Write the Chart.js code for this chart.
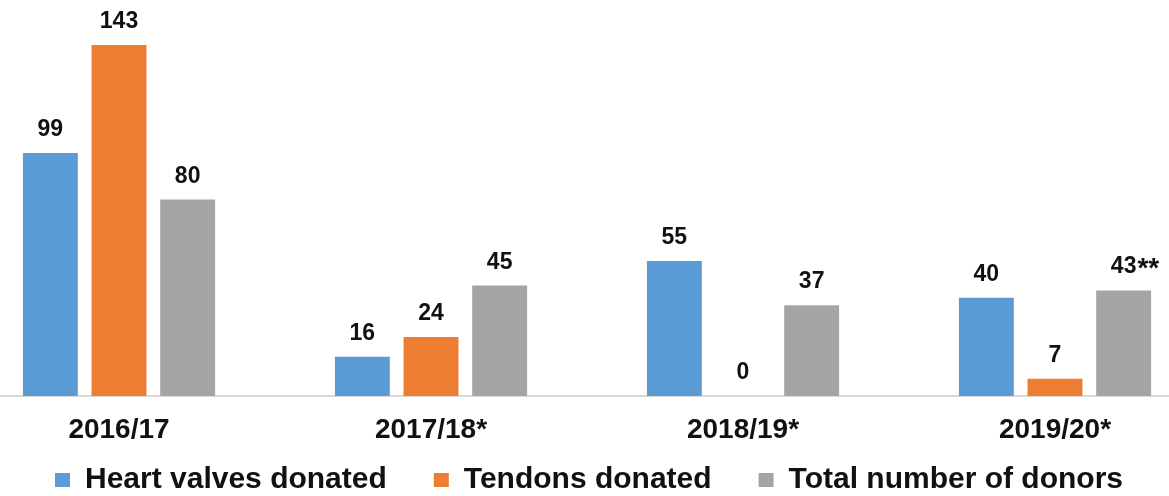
<!DOCTYPE html>
<html>
<head>
<meta charset="utf-8">
<script src="https://cdn.jsdelivr.net/npm/chart.js@4/dist/chart.umd.min.js"></script>
<style>
  html, body { margin: 0; padding: 0; background: #fff; overflow: hidden; width: 1169px; height: 496px; }
  #wrap { position: absolute; left: -37px; top: 0; width: 1248px; height: 496px; }
</style>
</head>
<body>
<div id="wrap"><canvas id="c"></canvas></div>
<script>
const categories = ['2016/17', '2017/18*', '2018/19*', '2019/20*'];
const seriesNames = ['Heart valves donated', 'Tendons donated', 'Total number of donors'];
const heartValves = [99, 16, 55, 40];
const tendons = [143, 24, 0, 7];
const totalDonors = [80, 45, 37, 43];
const totalDonorsNote = ['', '', '', '**'];
const colors = ['#5B9BD5', '#ED7D31', '#A5A5A5'];

const FONT = "'Liberation Sans', Arial, sans-serif";

const labelPlugin = {
  id: 'valueLabels',
  afterDatasetsDraw(chart) {
    const ctx = chart.ctx;
    ctx.save();
    ctx.fillStyle = '#111';
    ctx.textBaseline = 'alphabetic';
    chart.data.datasets.forEach((ds, i) => {
      const meta = chart.getDatasetMeta(i);
      meta.data.forEach((el, j) => {
        const txt = String(ds.data[j]);
        const y = el.y - 17;
        ctx.font = 'bold 23px ' + FONT;
        ctx.textAlign = 'center';
        ctx.fillText(txt, el.x, y);
        const note = ds.notes ? ds.notes[j] : '';
        if (note) {
          const w = ctx.measureText(txt).width;
          ctx.font = 'bold 28px ' + FONT;
          ctx.textAlign = 'left';
          ctx.fillText(note, el.x + w / 2 + 1, y + 4);
        }
      });
    });
    ctx.restore();
  }
};

const legendPlugin = {
  id: 'legendPlace',
  beforeLayout(chart) {
    const lg = chart.legend;
    if (lg && !lg._patched) {
      const f = lg.fit;
      lg.fit = function () { f.call(this); this.height = 40; };
      lg._patched = true;
    }
  },
  afterLayout(chart) {
    const lg = chart.legend;
    const p = lg.options.labels.padding;
    lg.top = 465 - p;
    lg.bottom = chart.height;
    lg.height = lg.bottom - lg.top;
    lg.left += 2;
    lg.right += 2;
  }
};

new Chart(document.getElementById('c'), {
  type: 'bar',
  data: {
    labels: categories,
    datasets: [
      { label: seriesNames[0], data: heartValves, backgroundColor: colors[0] },
      { label: seriesNames[1], data: tendons, backgroundColor: colors[1] },
      { label: seriesNames[2], data: totalDonors, backgroundColor: colors[2], notes: totalDonorsNote }
    ]
  },
  options: {
    responsive: true,
    maintainAspectRatio: false,
    animation: false,
    layout: { padding: 0 },
    datasets: { bar: { categoryPercentage: 0.66, barPercentage: 0.8 } },
    scales: {
      x: {
        grid: { display: false },
        border: { display: true, color: '#D9D9D9', width: 2 },
        ticks: { color: '#111', padding: 9, font: { family: FONT, size: 28, weight: 'bold' } },
        afterFit(scale) { scale.height = 60; }
      },
      y: { display: false, min: 0, max: 161.3 }
    },
    plugins: {
      legend: {
        position: 'bottom',
        labels: {
          boxWidth: 15, boxHeight: 14, padding: 47, color: '#111',
          font: { family: FONT, size: 30, weight: 'bold' }
        }
      },
      tooltip: { enabled: false }
    }
  },
  plugins: [labelPlugin, legendPlugin]
});
</script>
</body>
</html>
